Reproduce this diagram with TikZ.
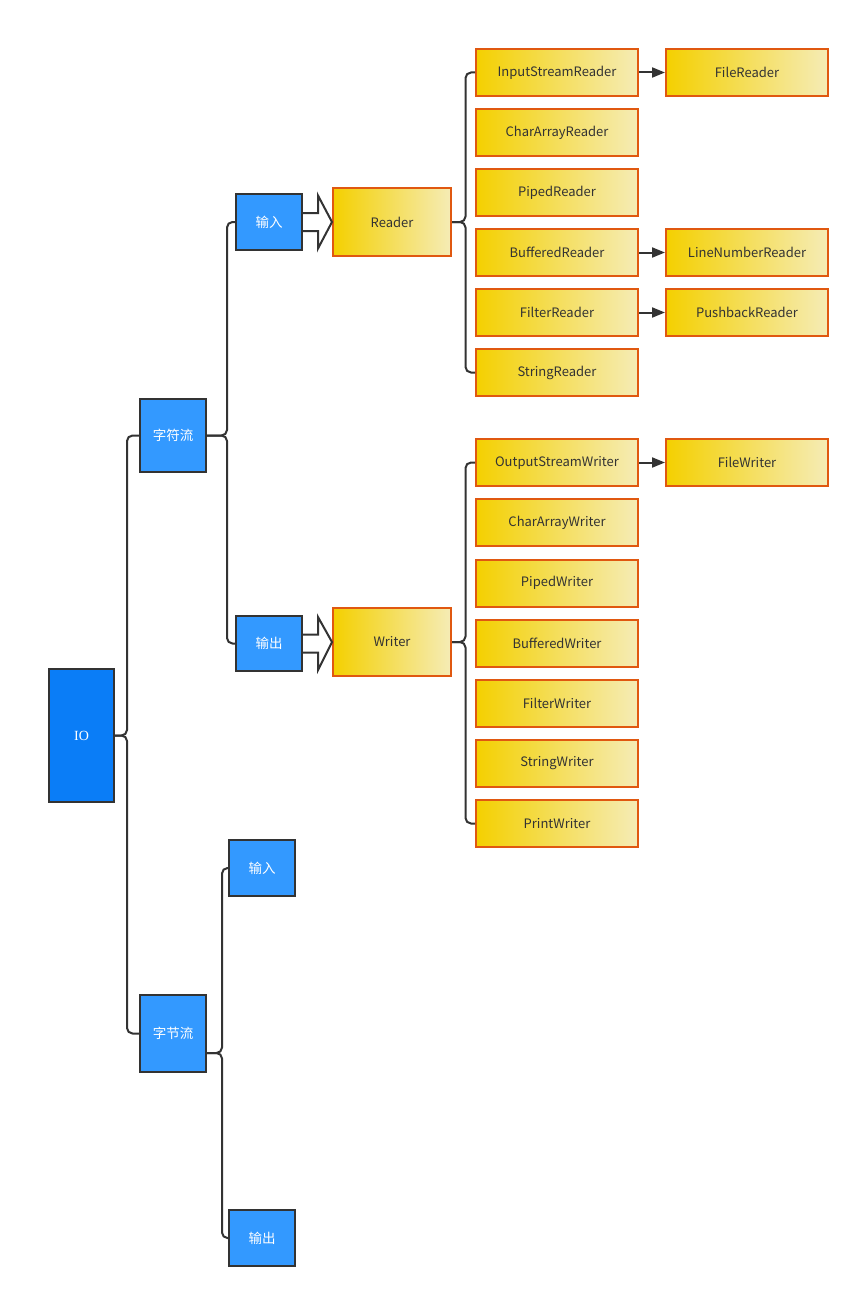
\documentclass[tikz,border=0pt]{standalone}
\usepackage{fontspec}
\setmainfont{Noto Sans CJK SC}
\newfontfamily\iofont{Liberation Serif}
\usetikzlibrary{arrows.meta,calc}
\definecolor{lc}{RGB}{51,51,51}
\definecolor{bA}{RGB}{10,125,247}
\definecolor{bB}{RGB}{51,153,255}
\definecolor{yA}{RGB}{244,208,0}
\definecolor{yB}{RGB}{245,236,182}
\definecolor{oc}{RGB}{224,88,16}
\definecolor{tc}{RGB}{51,51,51}
\newcommand\blkarrow[2]{\draw[blk] ($(#1.east)+(0,-9)$) -- ($(#1.east)+(15,-9)$) -- ($(#1.east)+(15,-26.5)$) -- (#2.west) -- ($(#1.east)+(15,26.5)$) -- ($(#1.east)+(15,9)$) -- ($(#1.east)+(0,9)$);}
\begin{document}
\begin{tikzpicture}[x=1pt,y=-1pt,
  conn/.style={draw=lc, line width=2pt, rounded corners=5.5pt},
  blk/.style={draw=lc, line width=2pt, fill=white, line join=miter},
  sarr/.style={draw=lc, line width=2pt, -{Triangle[length=13pt,width=10pt]}},
  bluebox/.style={draw=lc, line width=2pt, fill=bB, text=white, inner sep=0pt, minimum width=66, font=\fontsize{13.5}{15}\selectfont},
  ybox/.style={draw=oc, line width=2pt, left color=yA, right color=yB, text=tc, inner sep=0pt, minimum width=162, minimum height=47, font=\fontsize{13}{15}\selectfont},
  rbox/.style={ybox, minimum width=118, minimum height=68}]
\useasboundingbox (0,0) rectangle (861,1298);
\fill[white] (0,0) rectangle (861,1298);
% nodes
\node[bluebox, fill=bA, minimum height=133, minimum width=65, font=\iofont\fontsize{14}{16}\selectfont] (io) at (81.5,735.5) {IO};
\node[bluebox, minimum height=73] (zf) at (173,435.5) {字符流};
\node[bluebox, minimum height=56] (in1) at (269,222) {输入};
\node[bluebox, minimum height=55] (out1) at (269,643.5) {输出};
\node[bluebox, minimum height=77] (zj) at (173,1033.5) {字节流};
\node[bluebox, minimum height=56] (in2) at (262,868) {输入};
\node[bluebox, minimum height=56] (out2) at (262,1238) {输出};
\node[rbox] (rd) at (392,222) {Reader};
\node[rbox] (wr) at (392,642) {Writer};
\node[ybox] (r1) at (557,72.5) {InputStreamReader};
\node[ybox] (r2) at (557,132.5) {CharArrayReader};
\node[ybox] (r3) at (557,192.5) {PipedReader};
\node[ybox] (r4) at (557,252.5) {BufferedReader};
\node[ybox] (r5) at (557,312.5) {FilterReader};
\node[ybox] (r6) at (557,372.5) {StringReader};
\node[ybox] (fr) at (747,72.5) {FileReader};
\node[ybox] (lnr) at (747,252.5) {LineNumberReader};
\node[ybox] (pbr) at (747,312.5) {PushbackReader};
\node[ybox] (w1) at (557,462.5) {OutputStreamWriter};
\node[ybox] (w2) at (557,522.5) {CharArrayWriter};
\node[ybox] (w3) at (557,583) {PipedWriter};
\node[ybox] (w4) at (557,643) {BufferedWriter};
\node[ybox] (w5) at (557,703) {FilterWriter};
\node[ybox] (w6) at (557,763.5) {StringWriter};
\node[ybox] (w7) at (557,823.5) {PrintWriter};
\node[ybox] (fw) at (747,462.5) {FileWriter};
% brace cusps
\coordinate (kio) at (127,735.5);
\coordinate (kzf) at (227,435.5);
\coordinate (kzj) at (222,1053);
\coordinate (krd) at (465.5,222);
\coordinate (kwr) at (465.5,642);
% braces
\draw[conn] (zf.west) -| (kio) -- (io.east |- kio);
\draw[conn] (zj.west) -| (kio) -- (io.east |- kio);
\draw[conn] (in1.west) -| (kzf) -- (zf.east |- kzf);
\draw[conn] (out1.west) -| (kzf) -- (zf.east |- kzf);
\draw[conn] (in2.west) -| (kzj) -- (zj.east |- kzj);
\draw[conn] (out2.west) -| (kzj) -- (zj.east |- kzj);
\draw[conn] (r1.west) -| (krd) -- (rd.east |- krd);
\draw[conn] (r6.west) -| (krd) -- (rd.east |- krd);
\draw[conn] (w1.west) -| (kwr) -- (wr.east |- kwr);
\draw[conn] (w7.west) -| (kwr) -- (wr.east |- kwr);
% block arrows
\blkarrow{in1}{rd}
\blkarrow{out1}{wr}
% small arrows
\draw[sarr] (r1.east) -- (fr.west);
\draw[sarr] (r4.east) -- (lnr.west);
\draw[sarr] (r5.east) -- (pbr.west);
\draw[sarr] (w1.east) -- (fw.west);
\end{tikzpicture}
\end{document}
